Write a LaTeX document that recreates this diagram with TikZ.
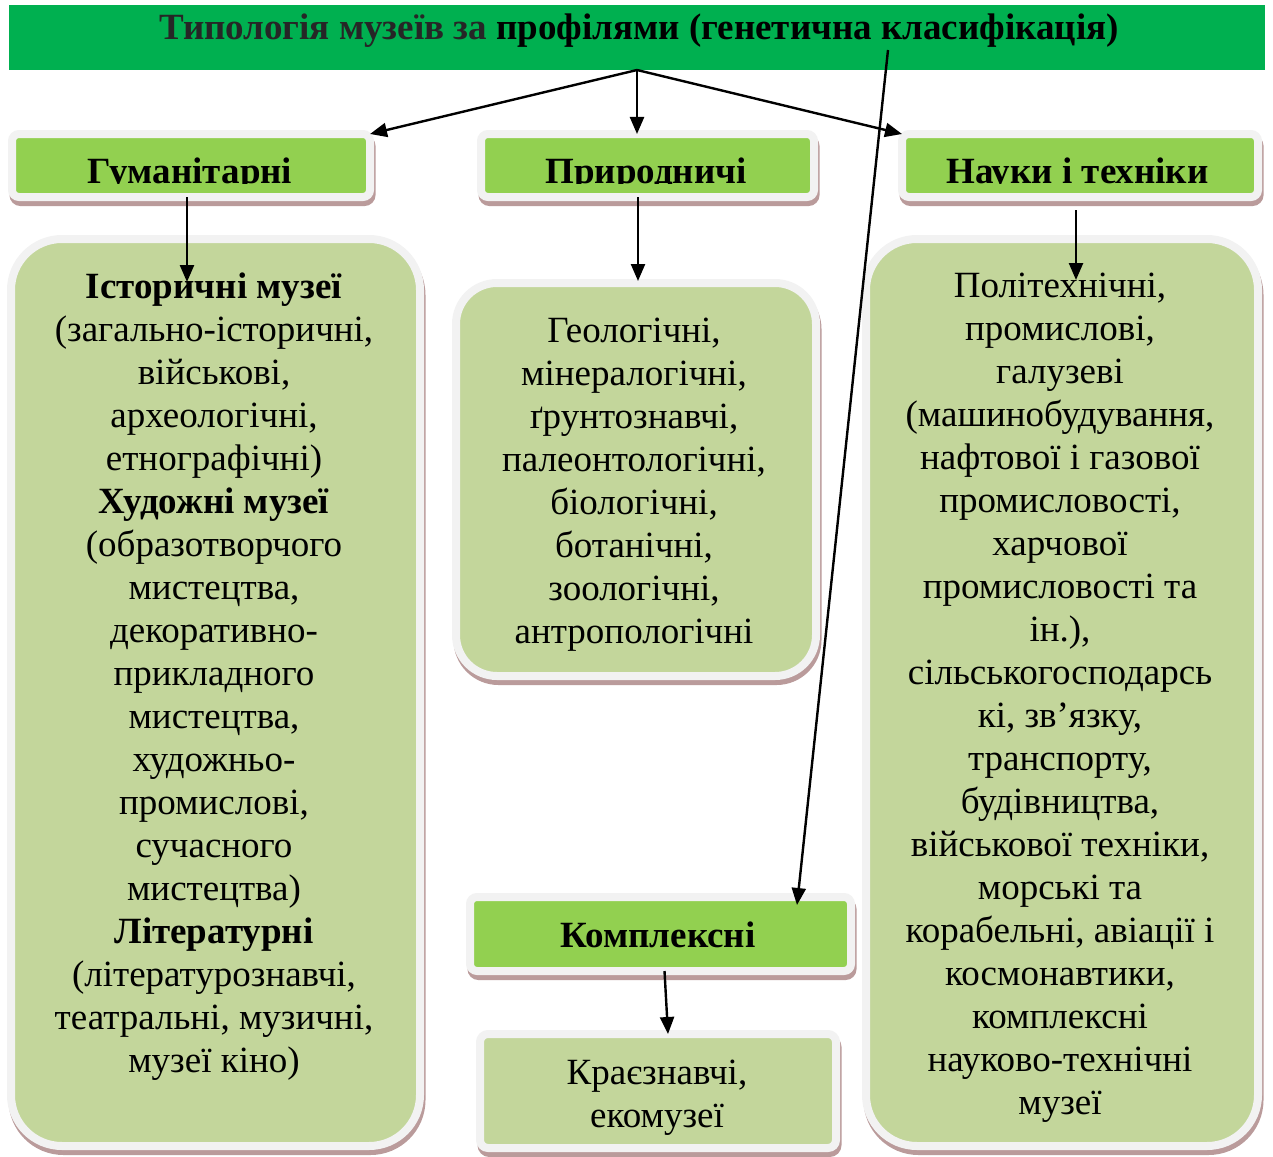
\documentclass[tikz,border=0pt]{standalone}
\usepackage{fontspec}
\setmainfont{Liberation Serif}
\usepackage{xcolor}
\usetikzlibrary{arrows.meta}

\definecolor{titlegreen}{HTML}{00B050}
\definecolor{titletext}{HTML}{262626}
\definecolor{headgreen}{HTML}{92D050}
\definecolor{bodygreen}{HTML}{C3D69B}
\definecolor{rimgray}{HTML}{F2F2F2}
\definecolor{shadowc}{HTML}{BA9B9B}

\begin{document}
\begin{tikzpicture}[x=0.5pt, y=-0.5pt,
    box/.style={draw=rimgray, line width=4pt, outer sep=0pt, inner sep=0pt,
        preaction={fill=shadowc, draw=shadowc, line width=4pt,
            transform canvas={shift={(0.75pt,-2.5pt)}}}},
    headbox/.style={box, fill=headgreen, rounded corners=3.5pt},
    bodybox/.style={box, fill=bodygreen},
    txt/.style={align=center, inner sep=0pt, font=\fontsize{18.5}{21.5}\selectfont},
    headtxt/.style={inner sep=0pt, font=\fontsize{18.5}{21.5}\selectfont\bfseries},
    arr/.style={line width=1.2pt, -{Triangle[length=8.5pt,width=7pt]}}]
    \useasboundingbox (0,0) rectangle (1273,1156);

    % title bar
    \node[fill=titlegreen, minimum width=628pt, minimum height=32.5pt, inner sep=0pt, outer sep=0pt] (title) at (637,37.5) {};
    \node[headtxt, anchor=base, text=titletext] (titleT) at (639,40) {Типологія музеїв за \textcolor{black}{профілями (генетична класифікація)}};

    % headers
    \node[headbox, minimum width=179pt, minimum height=31.5pt] (hum) at (191,165.5) {};
    \node[headbox, minimum width=166.5pt, minimum height=31.5pt] (nat) at (647.5,165.5) {};
    \node[headbox, minimum width=178pt, minimum height=31.5pt] (sci) at (1080,165.5) {};
    \begin{scope}
        \clip (15,140) rectangle (1252,183);
        \node[headtxt, anchor=base] (humT) at (190,183) {Гуманітарні};
        \node[headtxt, anchor=base] (natT) at (646,183) {Природничі};
        \node[headtxt, anchor=base] (sciT) at (1077.5,183) {Науки і техніки};
    \end{scope}

    % content boxes
    \node[bodybox, rounded corners=25.5pt, minimum width=204.5pt, minimum height=453.5pt] (hist) at (215.5,692.5) {};
    \node[bodybox, rounded corners=20.5pt, minimum width=180pt, minimum height=196.5pt] (geo) at (636,479.5) {};
    \node[bodybox, rounded corners=25.5pt, minimum width=196pt, minimum height=453.5pt] (tech) at (1062,692.5) {};
    \node[headbox, minimum width=190.5pt, minimum height=37pt] (compl) at (660.5,934) {};
    \node[bodybox, rounded corners=4pt, minimum width=178pt, minimum height=57pt] (reg) at (658,1091) {};

    \node[txt] (histT) at (214,676.5) {\textbf{Історичні музеї}\\
        (загально-історичні,\\ військові,\\ археологічні,\\ етнографічні)\\
        \textbf{Художні музеї}\\
        (образотворчого\\ мистецтва,\\ декоративно-\\ прикладного\\ мистецтва,\\
        художньо-\\ промислові,\\ сучасного\\ мистецтва)\\
        \textbf{Літературні}\\
        (літературознавчі,\\ театральні, музичні,\\ музеї кіно)};
    \node[txt] (geoT) at (634,484.5) {Геологічні,\\ мінералогічні,\\ ґрунтознавчі,\\
        палеонтологічні,\\ біологічні,\\ ботанічні,\\ зоологічні,\\ антропологічні};
    \node[txt] (techT) at (1060,698) {Політехнічні,\\ промислові,\\ галузеві\\
        (машинобудування,\\ нафтової і газової\\ промисловості,\\ харчової\\
        промисловості та\\ ін.),\\ сільськогосподарсь\\ кі, зв’язку,\\ транспорту,\\
        будівництва,\\ військової техніки,\\ морські та\\ корабельні, авіації і\\
        космонавтики,\\ комплексні\\ науково-технічні\\ музеї};
    \node[headtxt, anchor=base] (complT) at (658,947) {Комплексні};
    \node[txt] (regT) at (657,1097.5) {Краєзнавчі,\\ екомузеї};

    % connectors
    \coordinate (kfrom) at (888,50);
    \coordinate (kto) at (797,905);
    \draw[arr] (title.south) -- (hum.north east);
    \draw[arr] (title.south) -- (title.south |- nat.north);
    \draw[arr] (title.south) -- (sci.north west);
    \draw[arr] (kfrom) -- (kto);
    \draw[arr] ([xshift=-2pt]hum.south) -- ++(0,85);
    \draw[arr] ([xshift=-4.75pt]nat.south) -- ++(0,84);
    \draw[arr] ([xshift=-2pt,yshift=-6.5pt]sci.south) -- ++(0,70);
    \draw[arr] ([xshift=2pt]compl.south) -- ([xshift=5pt]reg.north);
\end{tikzpicture}
\end{document}
